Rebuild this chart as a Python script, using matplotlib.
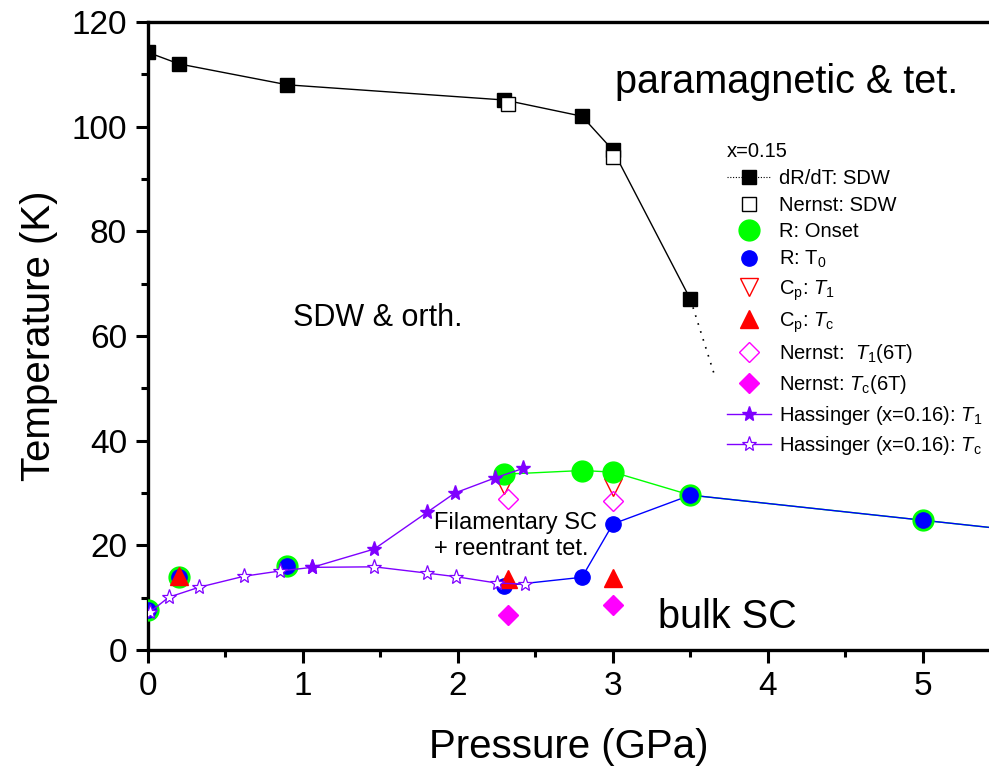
import matplotlib
matplotlib.use('Agg')
import matplotlib.pyplot as plt
from matplotlib.lines import Line2D
from matplotlib.ticker import MultipleLocator

plt.rcParams['font.family'] = ['Liberation Sans', 'DejaVu Sans']
plt.rcParams['mathtext.fontset'] = 'custom'
plt.rcParams['mathtext.rm'] = 'Liberation Sans'
plt.rcParams['mathtext.it'] = 'Liberation Sans:italic'

# dR/dT: SDW (x=0.15)
sdw_p = [0.0, 0.2, 0.9, 2.3, 2.8, 3.0, 3.5]
sdw_T = [114.2, 112.0, 108.0, 105.1, 102.0, 95.5, 67.0]
# dotted extrapolation below the last point
sdw_ext_p = [3.5, 3.65]
sdw_ext_T = [67.0, 53.0]

# Nernst: SDW
nsdw_p = [2.32, 3.0]
nsdw_T = [104.3, 94.2]

# R: onset and R: T0
r_p = [0.0, 0.2, 0.9, 2.3, 2.8, 3.0, 3.5, 5.0, 6.0]
r_onset = [7.6, 14.0, 16.0, 33.6, 34.3, 34.0, 29.6, 24.8, 21.6]
r_t0 = [7.6, 14.0, 16.0, 12.3, 13.9, 24.1, 29.6, 24.8, 21.6]

# Cp
cp_p = [2.3, 3.0]
cp_t1 = [31.5, 31.1]
cpc_p = [0.2, 2.32, 3.0]
cp_tc = [14.2, 13.6, 13.7]

# Nernst at 6 T
n6_p = [2.32, 3.0]
n6_t1 = [28.9, 28.4]
n6_tc = [6.7, 8.7]

# Hassinger (x=0.16)
h1_p = [1.06, 1.46, 1.8, 1.98, 2.24, 2.42]
h1_T = [15.8, 19.3, 26.3, 30.0, 32.9, 34.7]
hc_p = [0.01, 0.135, 0.33, 0.62, 0.85, 1.06, 1.46, 1.8, 1.99, 2.25, 2.43]
hc_T = [7.2, 10.1, 12.0, 14.1, 15.1, 15.8, 15.9, 14.7, 14.0, 12.8, 12.6]

green = '#00ff00'
blue = '#0000ff'
red = '#ff0000'
mag = '#ff00ff'
purple = '#7f00ff'

fig = plt.figure(figsize=(9.89, 7.70), dpi=100)
ax = fig.add_axes([0.1496, 0.1558, 0.8504, 0.8156])

# SDW line
ax.plot(sdw_ext_p, sdw_ext_T, color='black', linestyle=(0, (1, 4)), linewidth=1.2)
ax.plot(sdw_p, sdw_T, color='black', linewidth=1.0, marker='s', markersize=10.5, zorder=3)
ax.plot(nsdw_p, nsdw_T, linestyle='none', marker='s', markersize=10.5,
        markerfacecolor='white', markeredgecolor='black', markeredgewidth=1.0, zorder=4)

# open Cp triangles sit behind the circles
h_cp1, = ax.plot(cp_p, cp_t1, linestyle='none', marker='v', markersize=13,
                 markerfacecolor='none', markeredgecolor=red, markeredgewidth=1.0, zorder=3)

# R lines only drawn at higher pressure
ax.plot(r_p[3:], r_onset[3:], color=green, linewidth=1.0, zorder=3)
ax.plot(r_p[3:], r_t0[3:], color=blue, linewidth=1.0, zorder=3)
h_on, = ax.plot(r_p, r_onset, linestyle='none', marker='o', markersize=15,
                color=green, zorder=4)
h_t0, = ax.plot(r_p, r_t0, linestyle='none', marker='o', markersize=11,
                color=blue, zorder=5)

h_cpc, = ax.plot(cpc_p, cp_tc, linestyle='none', marker='^', markersize=13,
                 color=red, zorder=5)
h_n1, = ax.plot(n6_p, n6_t1, linestyle='none', marker='D', markersize=10,
                markerfacecolor='none', markeredgecolor=mag, markeredgewidth=1.0, zorder=4)
h_nc, = ax.plot(n6_p, n6_tc, linestyle='none', marker='D', markersize=10,
                color=mag, zorder=4)

h_hc, = ax.plot(hc_p, hc_T, color=purple, linewidth=1.0, marker='*', markersize=11,
                markerfacecolor='white', markeredgecolor=purple, markeredgewidth=0.9, zorder=6)
h_h1, = ax.plot(h1_p, h1_T, color=purple, linewidth=1.0, marker='*', markersize=11,
                markerfacecolor=purple, markeredgecolor=purple, zorder=6)

h_sdw = Line2D([], [], color='black', linestyle=(0, (1, 1.5)), linewidth=0.8,
               marker='s', markersize=10.5)
h_nsdw = Line2D([], [], linestyle='none', marker='s', markersize=10.5,
                markerfacecolor='white', markeredgecolor='black')

handles = [h_sdw, h_nsdw, h_on, h_t0, h_cp1, h_cpc, h_n1, h_nc, h_h1, h_hc]
labels = ['dR/dT: SDW', 'Nernst: SDW', 'R: Onset', 'R: T$_\\mathrm{0}$',
          'C$_\\mathrm{p}$: $T_\\mathrm{1}$', 'C$_\\mathrm{p}$: $T_\\mathrm{c}$',
          'Nernst:  $T_\\mathrm{1}$(6T)', 'Nernst: $T_\\mathrm{c}$(6T)',
          'Hassinger (x=0.16): $T_\\mathrm{1}$', 'Hassinger (x=0.16): $T_\\mathrm{c}$']
leg = ax.legend(handles, labels, title='x=0.15', loc='upper left',
                bbox_to_anchor=(0.735, 0.815), bbox_transform=fig.transFigure,
                frameon=False, fontsize=14.5, title_fontsize=14.5,
                handlelength=2.2, handletextpad=0.4, labelspacing=0.38,
                borderpad=0, borderaxespad=0, alignment='left')

# region labels
ax.text(4.12, 108.5, 'paramagnetic & tet.', fontsize=28.5, ha='center', va='center')
ax.text(1.48, 63.4, 'SDW & orth.', fontsize=22, ha='center', va='center')
ax.text(1.845, 21.8, 'Filamentary SC\n+ reentrant tet.', fontsize=17,
        ha='left', va='center', zorder=7)
ax.text(3.735, 6.3, 'bulk SC', fontsize=28.5, ha='center', va='center')

ax.set_xlim(0, 5.426)
ax.set_ylim(0, 120)
ax.xaxis.set_major_locator(MultipleLocator(1))
ax.xaxis.set_minor_locator(MultipleLocator(0.5))
ax.yaxis.set_major_locator(MultipleLocator(20))
ax.yaxis.set_minor_locator(MultipleLocator(10))
ax.tick_params(which='both', direction='out', width=2.2, labelsize=24, pad=6)
ax.tick_params(which='major', length=9)
ax.tick_params(which='minor', length=5)
ax.tick_params(top=False, right=False)
for side in ['left', 'bottom', 'top']:
    ax.spines[side].set_linewidth(2.4)
ax.spines['right'].set_visible(False)

ax.set_xlabel('Pressure (GPa)', fontsize=29, labelpad=19)
ax.set_ylabel('Temperature (K)', fontsize=29, labelpad=10)

fig.savefig('out.png', dpi=100)
